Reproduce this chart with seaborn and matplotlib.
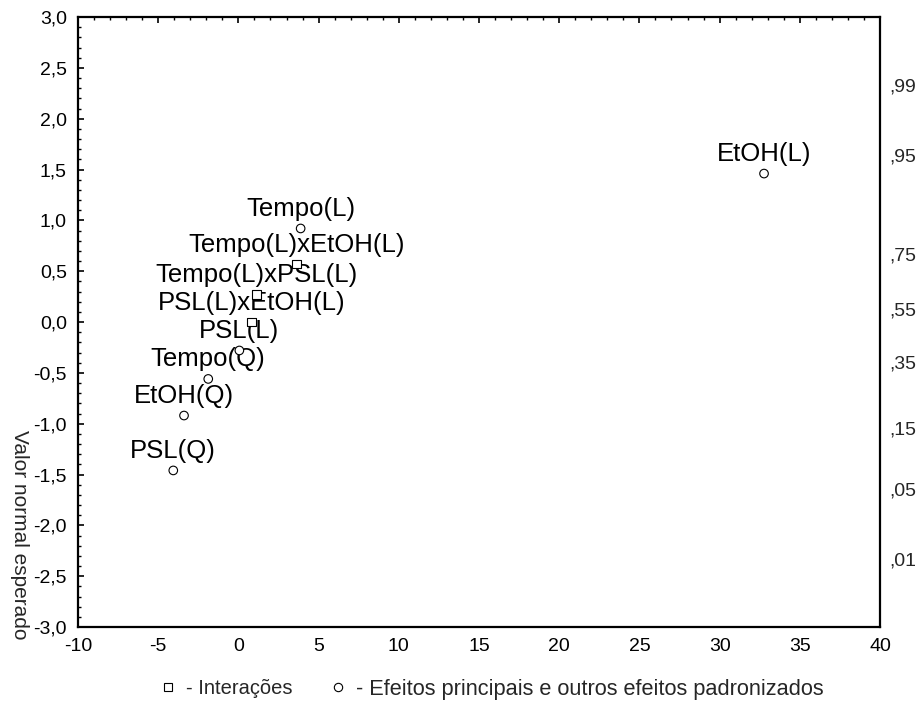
import matplotlib
matplotlib.use("Agg")
import matplotlib.pyplot as plt
import seaborn as sns
import pandas as pd
from matplotlib.ticker import MultipleLocator, FuncFormatter
from matplotlib.lines import Line2D

# ---- data ----
effect_names = ["EtOH(L)", "Tempo(L)", "Tempo(L)xEtOH(L)", "Tempo(L)xPSL(L)",
                "PSL(L)xEtOH(L)", "PSL(L)", "Tempo(Q)", "EtOH(Q)", "PSL(Q)"]
std_effects = [32.77, 3.88, 3.63, 1.14, 0.83, 0.06, -1.88, -3.39, -4.06]
expected_normal = [1.46, 0.92, 0.57, 0.27, 0.00, -0.28, -0.56, -0.92, -1.46]
effect_type = ["main", "main", "inter", "inter", "inter", "main", "main", "main", "main"]

prob_ticks = [2.33, 1.64, 0.67, 0.13, -0.39, -1.04, -1.64, -2.33]
prob_labels = [",99", ",95", ",75", ",55", ",35", ",15", ",05", ",01"]

legend_inter = "- Interações"
legend_main = "- Efeitos principais e outros efeitos padronizados"
y_label = "Valor normal esperado"

df = pd.DataFrame({"effect": std_effects, "expected": expected_normal,
                   "type": effect_type, "name": effect_names})

sns.set_style("white")
plt.rcParams["font.family"] = ["Liberation Sans", "DejaVu Sans"]

fig = plt.figure(figsize=(9.23, 7.02), dpi=100)
ax = fig.add_axes([78/923, 1-627/702, (880-78)/923, (627-17)/702])

sns.scatterplot(data=df, x="effect", y="expected", style="type",
                markers={"main": "o", "inter": "s"},
                style_order=["inter", "main"],
                s=38, facecolor="white", edgecolor="black", linewidth=0.8,
                legend=False, ax=ax, zorder=3)

for _, r in df.iterrows():
    ax.annotate(r["name"], (r["effect"], r["expected"]), xytext=(0, 9),
                textcoords="offset points", ha="center", va="baseline",
                fontsize=18.5, color="black", zorder=2)

ax.set_xlim(-10, 40)
ax.set_ylim(-3, 3)
ax.xaxis.set_major_locator(MultipleLocator(5))
ax.xaxis.set_minor_locator(MultipleLocator(1))
ax.yaxis.set_major_locator(MultipleLocator(0.5))
ax.yaxis.set_minor_locator(MultipleLocator(0.1))
ax.yaxis.set_major_formatter(FuncFormatter(lambda v, p: f"{v:.1f}".replace(".", ",")))
ax.xaxis.set_major_formatter(FuncFormatter(lambda v, p: f"{v:.0f}"))

ax.tick_params(which="both", direction="in", top=True, right=True,
               labelsize=14, colors="black")
ax.tick_params(which="major", length=4, width=1.2, pad=8)
ax.tick_params(which="minor", length=2, width=1.0)
for sp in ax.spines.values():
    sp.set_visible(True)
    sp.set_linewidth(1.6)
    sp.set_color("black")

ax.set_xlabel("")
ax.set_ylabel(y_label, fontsize=15, rotation=270, ha="center", va="center")
ax.yaxis.set_label_coords(-0.073, 0.151)

ax2 = ax.twinx()
ax2.set_ylim(-3, 3)
ax2.set_yticks(prob_ticks)
ax2.set_yticklabels(prob_labels)
ax2.tick_params(axis="y", length=0, pad=7, labelsize=14)
for sp in ax2.spines.values():
    sp.set_visible(False)

handles = [
    Line2D([], [], marker="s", linestyle="none", markerfacecolor="white",
           markeredgecolor="black", markersize=6, markeredgewidth=0.8),
    Line2D([], [], marker="o", linestyle="none", markerfacecolor="white",
           markeredgecolor="black", markersize=6, markeredgewidth=0.8),
]
leg = fig.legend(handles, [legend_inter, legend_main], loc="center",
                 bbox_to_anchor=(491/923, 1-689/702), ncol=2, frameon=False,
                 fontsize=14.5, handlelength=1.0, handletextpad=0.4,
                 columnspacing=1.75)
leg.get_texts()[1].set_fontsize(15.7)

fig.savefig("out.png", dpi=100, facecolor="white")
